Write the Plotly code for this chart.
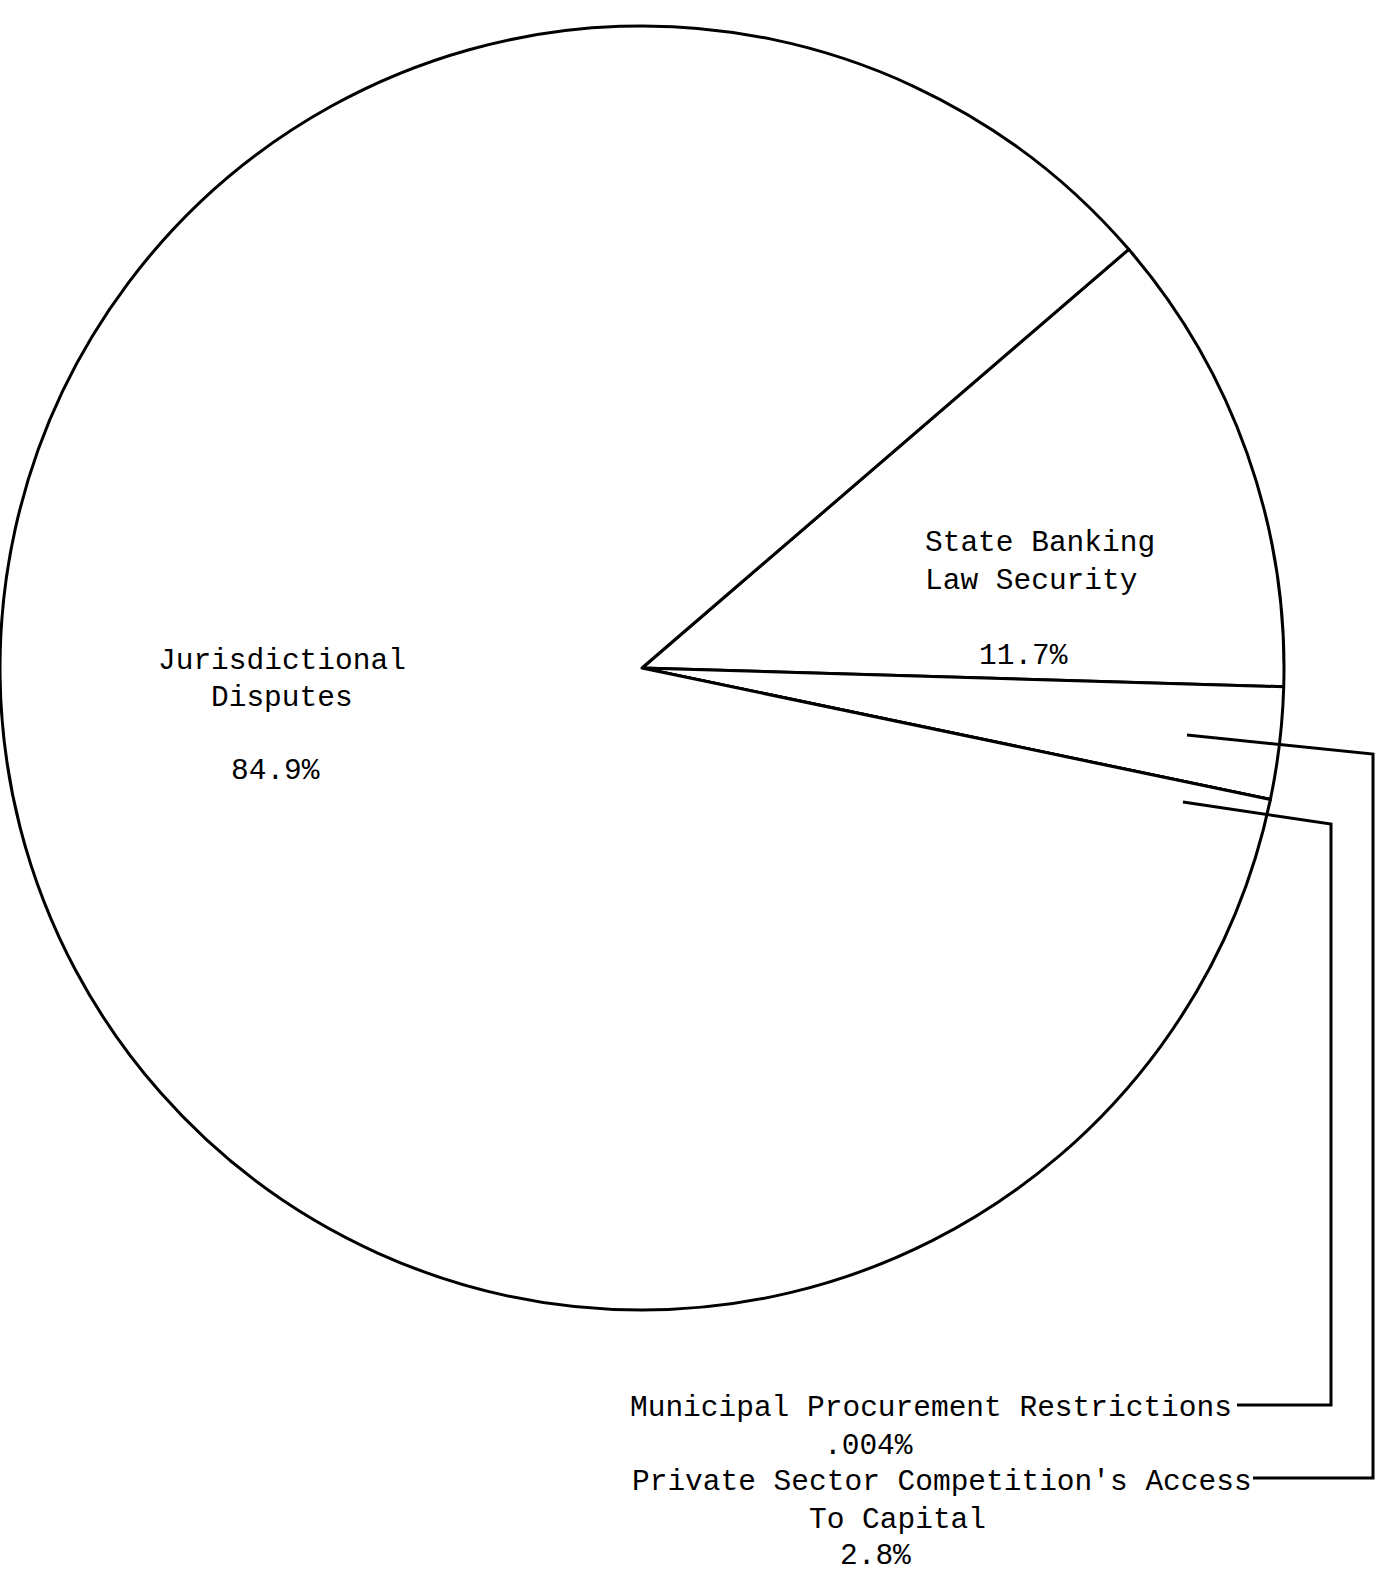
import plotly.graph_objects as go

# ---- data ----
categories = [
    "State Banking Law Security",
    "Private Sector Competition's Access To Capital",
    "Municipal Procurement Restrictions",
    "Jurisdictional Disputes",
]
values = [11.7, 2.8, 0.004, 84.9]
value_labels = ["11.7%", "2.8%", ".004%", "84.9%"]

W, H = 1376, 1575
FONT = dict(family="Liberation Mono, Courier New, monospace", size=29.5, color="black")


def px(x):
    return x / W


def py(y):
    return 1 - y / H


# pie geometry (pixels)
CX, CY, R = 642, 668, 642

fig = go.Figure(
    go.Pie(
        labels=categories,
        values=values,
        sort=False,
        direction="clockwise",
        rotation=49.3,
        textinfo="none",
        hoverinfo="label+percent",
        showlegend=False,
        marker=dict(colors=["white"] * len(values), line=dict(color="black", width=3)),
        domain=dict(x=[px(CX - R), px(CX + R)], y=[py(CY + R), py(CY - R)]),
    )
)


def ann(text, x, y):
    return dict(text=text, x=px(x), y=py(y), xref="paper", yref="paper",
                xanchor="center", yanchor="middle", showarrow=False, font=FONT)


annotations = [
    ann("Jurisdictional", 282, 661),
    ann("Disputes", 282, 698),
    ann(value_labels[3], 275, 771),
    ann("State Banking", 1040, 543),
    ann("Law Security", 1031, 581),
    ann(value_labels[0], 1023, 656),
    ann("Municipal Procurement Restrictions", 931, 1408),
    ann(value_labels[2], 869, 1446),
    ann("Private Sector Competition's Access", 942, 1482),
    ann("To Capital", 897, 1520),
    ann(value_labels[1], 875, 1556),
]


def path(points):
    d = "M " + " L ".join(f"{px(x):.5f},{py(y):.5f}" for x, y in points)
    return dict(type="path", path=d, xref="paper", yref="paper",
                line=dict(color="black", width=3))


shapes = [
    # Private Sector leader
    path([(1187, 735), (1373, 754), (1373, 1478), (1253, 1478)]),
    # Municipal leader
    path([(1183, 802), (1331, 824), (1331, 1405), (1237, 1405)]),
]

fig.update_layout(
    width=W,
    height=H,
    margin=dict(l=0, r=0, t=0, b=0),
    paper_bgcolor="white",
    plot_bgcolor="white",
    annotations=annotations,
    shapes=shapes,
)

fig.write_html("out.html")
